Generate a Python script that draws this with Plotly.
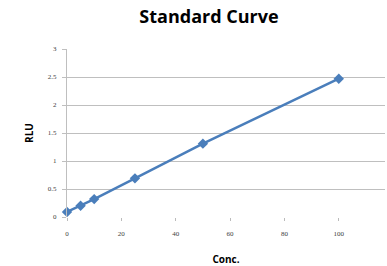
import plotly.graph_objects as go

conc = [0, 5, 10, 25, 50, 100]
rlu = [0.09, 0.2, 0.32, 0.69, 1.31, 2.47]
x_ticks = [0, 20, 40, 60, 80, 100]
y_ticks = [0, 0.5, 1, 1.5, 2, 2.5, 3]
y_tick_labels = ["0", "0.5", "1", "1.5", "2", "2.5", "3"]

W, H = 387, 266

fig = go.Figure()
fig.add_trace(go.Scatter(
    x=conc, y=rlu, mode="lines+markers",
    line=dict(color="#4A7EBB", width=2.5),
    marker=dict(symbol="diamond", size=8, color="#4A7EBB"),
    cliponaxis=False,
    showlegend=False,
))

fig.update_layout(
    width=W, height=H,
    margin=dict(l=67, r=2, t=49, b=49),
    paper_bgcolor="white", plot_bgcolor="white",
    title=dict(text="<b>Standard Curve</b>", x=209/W, xanchor="center", y=1 - 17/H, yanchor="middle",
               font=dict(family="Open Sans", size=18, color="#000000")),
    xaxis=dict(
        range=[0, 117], tickvals=x_ticks, showgrid=False, zeroline=False,
        showline=False, ticks="outside", ticklen=3, tickcolor="#BBBBBB",
        tickfont=dict(family="Liberation Serif", size=7, color="#404040"),
        ticklabelstandoff=7,
        automargin=False,
        title=dict(text="<b>Conc.</b>", font=dict(family="Open Sans", size=10, color="#000000"), standoff=20),
    ),
    yaxis=dict(
        range=[0, 3], tickvals=y_ticks, ticktext=y_tick_labels,
        showgrid=True, gridcolor="#BFBFBF", gridwidth=1, zeroline=False,
        showline=True, linecolor="#BFBFBF", linewidth=1,
        ticks="outside", ticklen=4, tickcolor="#BFBFBF",
        tickfont=dict(family="Liberation Serif", size=7, color="#404040"),
        ticklabelstandoff=4,
        automargin=False,
        title=dict(text="<b>RLU</b>", font=dict(family="Open Sans", size=10, color="#000000"), standoff=12),
    ),
)

fig.write_html("out.html", config={"displayModeBar": False},
               post_script="document.body.style.margin='0';")
